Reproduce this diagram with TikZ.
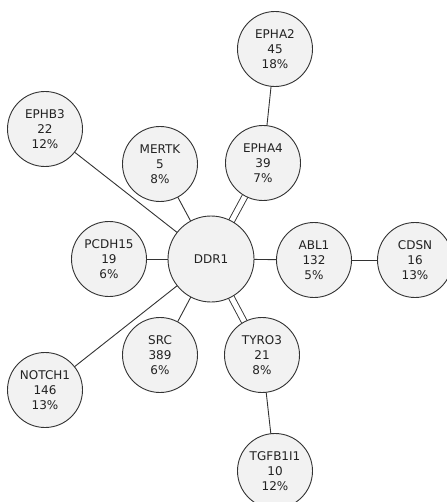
\documentclass[tikz,border=0pt]{standalone}
\usepackage{fontspec}
\setmainfont{DejaVu Sans}
\usetikzlibrary{backgrounds}
\definecolor{nodefill}{HTML}{F2F2F2}
\definecolor{nodeline}{HTML}{333333}
\definecolor{txt}{HTML}{222222}
\tikzset{
  gene/.style={circle, draw=nodeline, fill=nodefill, line width=0.9pt,
    minimum size=75pt, inner sep=0pt, align=center, text=txt,
    font=\fontsize{12}{14.8}\selectfont},
  hub/.style={gene, minimum size=86pt},
  link/.style={draw=nodeline, line width=0.9pt},
  dlink/.style={draw=nodeline, line width=0.9pt, double=white, double distance=5pt}
}
\begin{document}
\begin{tikzpicture}[x=1pt,y=-1pt]
\useasboundingbox (0,0) rectangle (446,502);
\node[hub] (ddr1) at (211,259) {DDR1};
\node[gene] (epha2) at (275,49) {EPHA2\\45\\18\%};
\node[gene] (epha4) at (263,163) {EPHA4\\39\\7\%};
\node[gene] (ephb3) at (45,129) {EPHB3\\22\\12\%};
\node[gene] (mertk) at (160,164) {MERTK\\5\\8\%};
\node[gene] (pcdh15) at (109,259) {PCDH15\\19\\6\%};
\node[gene] (abl1) at (314,260) {ABL1\\132\\5\%};
\node[gene] (cdsn) at (415,260) {CDSN\\16\\13\%};
\node[gene] (src) at (160,355) {SRC\\389\\6\%};
\node[gene] (notch1) at (45,390) {NOTCH1\\146\\13\%};
\node[gene] (tyro3) at (262,355) {TYRO3\\21\\8\%};
\node[gene] (tgfb1i1) at (275,471) {TGFB1I1\\10\\12\%};
\begin{scope}[on background layer]
\fill[white] (0,0) rectangle (446,502);
\path[dlink] (ddr1.center) -- (epha4.center);
\path[dlink] (ddr1.center) -- (tyro3.center);
\path[link] (epha4.center) -- (epha2.center);
\path[link] (ddr1.center) -- (ephb3.center);
\path[link] (ddr1.center) -- (mertk.center);
\path[link] (ddr1.center) -- (pcdh15.center);
\path[link] (ddr1.center) -- (abl1.center);
\path[link] (abl1.center) -- (cdsn.center);
\path[link] (ddr1.center) -- (src.center);
\path[link] (ddr1.center) -- (notch1.center);
\path[link] (tyro3.center) -- (tgfb1i1.center);
\end{scope}
\end{tikzpicture}
\end{document}
